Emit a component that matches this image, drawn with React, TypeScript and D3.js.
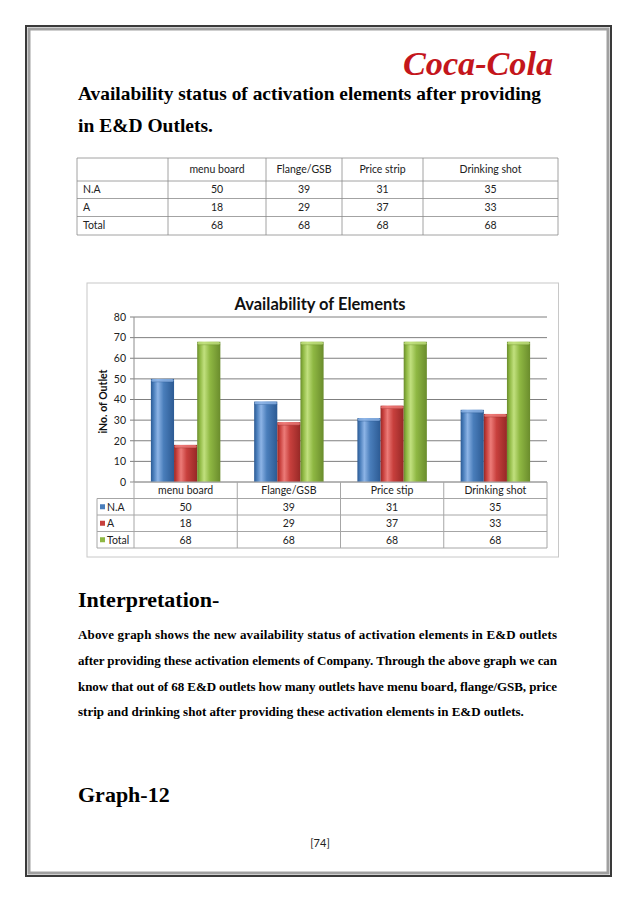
import * as d3 from "d3";

// chart data
const categories = ["menu board", "Flange/GSB", "Price stip", "Drinking shot"];
const tableHeaders = ["menu board", "Flange/GSB", "Price strip", "Drinking shot"];
const seriesNames = ["N.A", "A", "Total"];
const naValues = [50, 39, 31, 35];
const aValues = [18, 29, 37, 33];
const totalValues = [68, 68, 68, 68];
const yTicks = [0, 10, 20, 30, 40, 50, 60, 70, 80];

const paragraph = [
  "Above graph shows the new availability status of activation elements in E&D outlets",
  "after providing these activation elements of Company. Through the above graph we can",
  "know that out of 68 E&D outlets how many outlets have menu board, flange/GSB, price",
  "strip and drinking shot after providing these activation elements in E&D  outlets.",
];

const series = [
  { name: seriesNames[0], values: naValues, base: "#4a7ebb", light: "#8db4e6", dark: "#2c5a93" },
  { name: seriesNames[1], values: aValues, base: "#c8403d", light: "#ec7b78", dark: "#962826" },
  { name: seriesNames[2], values: totalValues, base: "#8fb843", light: "#c1e07e", dark: "#6a8c2c" },
];

const SERIF = "'Liberation Serif', 'Times New Roman', serif";
const SANS = "Lato, 'Open Sans', sans-serif";

// plot box
const P = { left: 134, right: 547, top: 317, bottom: 482 };
const ROW = 16.5;

function GradientDefs() {
  return (
    <defs>
      {series.map((s, i) => (
        <linearGradient key={i} id={`bar-${i}`} x1="0" x2="1" y1="0" y2="0">
          <stop offset="0" stopColor={s.dark} />
          <stop offset="0.12" stopColor={s.base} />
          <stop offset="0.3" stopColor={s.light} />
          <stop offset="0.55" stopColor={s.base} />
          <stop offset="1" stopColor={s.dark} />
        </linearGradient>
      ))}
    </defs>
  );
}

function Chart() {
  const x = d3.scaleBand<string>().domain(categories).range([P.left, P.right]);
  const inner = d3
    .scaleBand<string>()
    .domain(seriesNames)
    .range([0, x.bandwidth()])
    .paddingOuter(0.73);
  const y = d3.scaleLinear().domain([0, 80]).range([P.bottom, P.top]);

  const tableTop = P.bottom;
  const legendLeft = 97;

  return (
    <g>
      {/* chart frame */}
      <rect x={87} y={283} width={471.5} height={274} fill="#fff" stroke="#c8c8c8" strokeWidth={1} />
      <text x={320} y={310} textAnchor="middle" fontFamily={SANS} fontWeight={700} fontSize={16.5} fill="#111">
        Availability of Elements
      </text>
      <text
        transform={`translate(107,${(P.top + P.bottom) / 2 + 2}) rotate(-90)`}
        textAnchor="middle"
        fontFamily={SANS}
        fontWeight={700}
        fontSize={10.5}
        fill="#111"
      >
        iNo. of Outlet
      </text>

      {yTicks.map((t) => (
        <g key={t}>
          <line x1={P.left - 4} x2={P.right} y1={y(t)} y2={y(t)} stroke={t === 0 ? "#8c8c8c" : "#7f7f7f"} strokeWidth={1} />
          <text x={126} y={y(t) + 3.8} textAnchor="end" fontFamily={SANS} fontSize={10.5} fill="#222">
            {t}
          </text>
        </g>
      ))}
      <line x1={P.left} x2={P.left} y1={P.top} y2={P.bottom} stroke="#8c8c8c" />

      {series.map((s, si) =>
        categories.map((c, ci) => {
          const bx = x(c)! + inner(s.name)!;
          const bw = inner.bandwidth();
          const top = y(s.values[ci]);
          return (
            <g key={`${si}-${ci}`}>
              <rect x={bx} y={top} width={bw} height={P.bottom - top} fill={`url(#bar-${si})`} />
              <rect x={bx + 0.5} y={top} width={bw - 1} height={3} rx={1.5} fill={s.light} opacity={0.8} />
              <line x1={bx} x2={bx + bw} y1={top + 3} y2={top + 3} stroke={s.dark} strokeWidth={0.6} opacity={0.6} />
            </g>
          );
        })
      )}

      {/* data table under the plot */}
      <g fontFamily={SANS} fontSize={10.5} fill="#222">
        {categories.map((c) => (
          <text key={c} x={x(c)! + x.bandwidth() / 2} y={tableTop + ROW / 2 + 3.8} textAnchor="middle">
            {c}
          </text>
        ))}
        {series.map((s, si) => {
          const ry = tableTop + ROW * (si + 1);
          return (
            <g key={s.name}>
              <rect x={legendLeft + 3} y={ry + ROW / 2 - 2.5} width={5} height={5} fill={s.base} />
              <text x={legendLeft + 10} y={ry + ROW / 2 + 3.8}>
                {s.name}
              </text>
              {categories.map((c, ci) => (
                <text key={c} x={x(c)! + x.bandwidth() / 2} y={ry + ROW / 2 + 3.8} textAnchor="middle">
                  {s.values[ci]}
                </text>
              ))}
            </g>
          );
        })}
      </g>
      <g stroke="#a6a6a6" strokeWidth={1} fill="none">
        <line x1={P.left} x2={P.right} y1={tableTop} y2={tableTop} />
        {[1, 2, 3, 4].map((r) => (
          <line key={r} x1={legendLeft} x2={P.right} y1={tableTop + ROW * r} y2={tableTop + ROW * r} />
        ))}
        <line x1={legendLeft} x2={legendLeft} y1={tableTop + ROW} y2={tableTop + ROW * 4} />
        {categories.map((c) => (
          <line key={c} x1={x(c)!} x2={x(c)!} y1={tableTop} y2={tableTop + ROW * 4} />
        ))}
        <line x1={P.right} x2={P.right} y1={tableTop} y2={tableTop + ROW * 4} />
      </g>
    </g>
  );
}

function PageTable() {
  const cols = [77, 168, 266, 342, 423, 558];
  const rows = [158, 181, 198.5, 216.5, 235];
  const body = [naValues, aValues, totalValues];
  return (
    <g>
      <g fontFamily={SANS} fontSize={10.5} fill="#222">
        {tableHeaders.map((h, i) => (
          <text key={h} x={(cols[i + 1] + cols[i + 2]) / 2} y={(rows[0] + rows[1]) / 2 + 3.7} textAnchor="middle">
            {h}
          </text>
        ))}
        {body.map((vals, r) => (
          <g key={r}>
            <text x={83} y={(rows[r + 1] + rows[r + 2]) / 2 + 3.7}>
              {seriesNames[r]}
            </text>
            {vals.map((v, i) => (
              <text key={i} x={(cols[i + 1] + cols[i + 2]) / 2} y={(rows[r + 1] + rows[r + 2]) / 2 + 3.7} textAnchor="middle">
                {v}
              </text>
            ))}
          </g>
        ))}
      </g>
      <g stroke="#8c8c8c" strokeWidth={0.8}>
        {rows.map((ry) => (
          <line key={ry} x1={cols[0]} x2={cols[5]} y1={ry} y2={ry} />
        ))}
        {cols.map((cx) => (
          <line key={cx} x1={cx} x2={cx} y1={rows[0]} y2={rows[4]} />
        ))}
      </g>
    </g>
  );
}

export default function App() {
  return (
    <svg
      width={638}
      height={903}
      viewBox="0 0 638 903"
      style={{ position: "absolute", left: 0, top: 0, background: "#fff" }}
    >
      <GradientDefs />
      <rect width={638} height={903} fill="#fff" />

      {/* page frame: dark outer line, grey inner band */}
      <rect x={26} y={26} width={585} height={850} fill="none" stroke="#3a3a3a" strokeWidth={2} />
      <rect x={29} y={29} width={579} height={844} fill="none" stroke="#a0a0a0" strokeWidth={3} />

      {/* logo */}
      <text
        x={403}
        y={75}
        fontFamily={SERIF}
        fontStyle="italic"
        fontWeight={700}
        fontSize={33}
        fill="#c4161c"
        textLength={150}
        lengthAdjust="spacingAndGlyphs"
      >
        Coca-Cola
      </text>

      <g fontFamily={SERIF} fontWeight={700} fill="#000">
        <text x={78} y={100} fontSize={19} textLength={463} lengthAdjust="spacingAndGlyphs">
          Availability status of activation elements after providing
        </text>
        <text x={78} y={132} fontSize={19} textLength={135} lengthAdjust="spacingAndGlyphs">
          in E&amp;D Outlets.
        </text>
      </g>

      <PageTable />
      <Chart />

      <g fontFamily={SERIF} fontWeight={700} fill="#000">
        <text x={78} y={607} fontSize={22}>
          Interpretation-
        </text>
        {paragraph.map((line, i) => (
          <text
            key={i}
            x={78}
            y={639 + i * 25.8}
            fontSize={13}
            textLength={i < paragraph.length - 1 ? 479 : undefined}
            lengthAdjust="spacing"
          >
            {line}
          </text>
        ))}
        <text x={78} y={802} fontSize={22}>
          Graph-12
        </text>
      </g>
      <text x={320} y={847} textAnchor="middle" fontFamily={SANS} fontSize={11} fill="#222">
        [74]
      </text>
    </svg>
  );
}
